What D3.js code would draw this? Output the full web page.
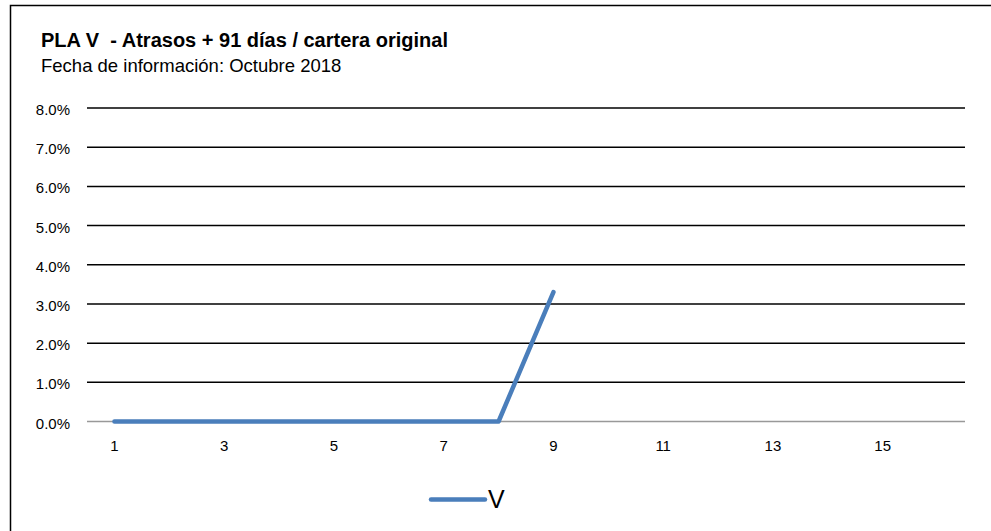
<!DOCTYPE html>
<html>
<head>
<meta charset="utf-8">
<script src="https://cdn.jsdelivr.net/npm/d3@7"></script>
<style>
  body { margin: 0; background: #fff; }
  svg { display: block; font-family: Arial, "Liberation Sans", sans-serif; }
</style>
</head>
<body>
<svg id="chart" width="991" height="531"></svg>
<script>
// chart data
var categories = d3.range(1, 17);
var seriesName = "V";
var seriesValues = [0, 0, 0, 0, 0, 0, 0, 0, 0.033];
var yTicks = [0, 0.01, 0.02, 0.03, 0.04, 0.05, 0.06, 0.07, 0.08];
var xTickLabels = [1, 3, 5, 7, 9, 11, 13, 15];

var svg = d3.select("#chart");

// outer frame (only top and left edges visible in the crop)
svg.append("path")
  .attr("d", "M10.5 531 V5.5 H991")
  .attr("fill", "none")
  .attr("stroke", "#000")
  .attr("stroke-width", 1.5);

svg.append("text")
  .attr("x", 41).attr("y", 47)
  .attr("font-size", 20).attr("font-weight", "bold")
  .style("white-space", "pre")
  .text("PLA V  - Atrasos + 91 días / cartera original");

svg.append("text")
  .attr("x", 41).attr("y", 71.5)
  .attr("font-size", 18.5)
  .text("Fecha de información: Octubre 2018");

var x = d3.scaleBand().domain(categories).range([87, 965]);
var y = d3.scaleLinear().domain([0, 0.08]).range([421.5, 108]);

// gridlines
svg.append("g").selectAll("line")
  .data(yTicks.filter(function(d) { return d > 0; }))
  .join("line")
  .attr("x1", 87).attr("x2", 965)
  .attr("y1", function(d) { return y(d); })
  .attr("y2", function(d) { return y(d); })
  .attr("stroke", "#000")
  .attr("stroke-width", 1.5);

// zero axis
svg.append("line")
  .attr("x1", 87).attr("x2", 965)
  .attr("y1", y(0)).attr("y2", y(0))
  .attr("stroke", "#999")
  .attr("stroke-width", 1.5);

// y labels
svg.append("g").selectAll("text")
  .data(yTicks)
  .join("text")
  .attr("x", 70)
  .attr("y", function(d) { return y(d) + 7; })
  .attr("text-anchor", "end")
  .attr("font-size", 15)
  .text(d3.format(".1%"));

// x labels
svg.append("g").selectAll("text")
  .data(xTickLabels)
  .join("text")
  .attr("x", function(d) { return x(d) + x.bandwidth() / 2; })
  .attr("y", 450.5)
  .attr("text-anchor", "middle")
  .attr("font-size", 15)
  .text(function(d) { return d; });

// series line
var line = d3.line()
  .x(function(d, i) { return x(categories[i]) + x.bandwidth() / 2; })
  .y(function(d) { return y(d); });

svg.append("path")
  .datum(seriesValues)
  .attr("d", line)
  .attr("fill", "none")
  .attr("stroke", "#4a7ebb")
  .attr("stroke-width", 4.5)
  .attr("stroke-linecap", "round")
  .attr("stroke-linejoin", "round");

// legend
svg.append("line")
  .attr("x1", 431).attr("x2", 485)
  .attr("y1", 499.5).attr("y2", 499.5)
  .attr("stroke", "#4a7ebb")
  .attr("stroke-width", 4.5)
  .attr("stroke-linecap", "round");

svg.append("text")
  .attr("x", 488).attr("y", 508)
  .attr("font-size", 25)
  .text(seriesName);
</script>
</body>
</html>
